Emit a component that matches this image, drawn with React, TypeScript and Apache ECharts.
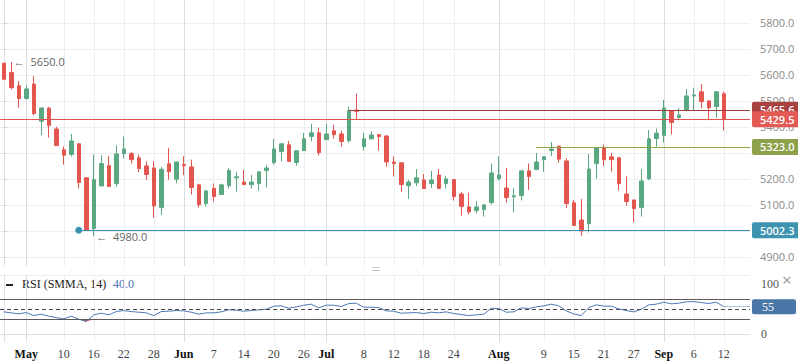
import React, { useEffect, useRef } from 'react';
import * as echarts from 'echarts';

// ---------- data ----------
const slotCount = 100; // 97 candles + empty space on the right
const opens = [5645,5609,5558,5509,5565,5422,5472,5392,5312,5294,5335,5204,5009,5173,5251,5182,5297,5297,5281,5250,5242,5090,5258,5199,5255,5246,5177,5105,5164,5140,5174,5204,5188,5178,5182,5232,5263,5305,5331,5263,5309,5363,5377,5351,5385,5373,5347,5465,5324,5354,5370,5365,5265,5262,5174,5185,5196,5182,5215,5182,5197,5142,5092,5078,5082,5109,5201,5165,5131,5136,5231,5236,5274,5309,5326,5269,5108,5042,5028,5259,5321,5285,5281,5142,5119,5090,5200,5355,5367,5463,5436,5465,5519,5535,5500,5478,5527];
const highs = [5647,5650,5577,5560,5596,5473,5477,5401,5324,5373,5336,5205,5294,5291,5288,5329,5363,5303,5294,5268,5268,5246,5319,5266,5287,5274,5181,5155,5182,5182,5241,5227,5235,5215,5228,5254,5354,5336,5346,5309,5377,5412,5397,5412,5408,5385,5477,5528,5377,5383,5371,5369,5286,5263,5196,5238,5219,5231,5238,5212,5200,5150,5147,5115,5104,5259,5286,5242,5165,5232,5259,5300,5287,5342,5328,5279,5119,5123,5296,5322,5331,5300,5285,5209,5120,5238,5388,5394,5504,5464,5473,5546,5551,5565,5501,5536,5535];
const lows = [5580,5544,5474,5505,5444,5368,5359,5327,5255,5286,5163,5000,4980,5172,5170,5171,5278,5259,5226,5197,5051,5062,5197,5183,5214,5140,5090,5094,5113,5139,5163,5151,5177,5163,5155,5167,5255,5267,5266,5251,5308,5344,5290,5350,5355,5324,5340,5427,5309,5353,5308,5246,5209,5150,5123,5172,5162,5165,5162,5163,5117,5059,5063,5067,5055,5101,5194,5109,5071,5117,5158,5235,5227,5288,5262,5088,5020,4981,4994,5201,5250,5228,5155,5097,5032,5055,5196,5324,5340,5371,5428,5459,5465,5471,5426,5435,5386];
const closes = [5583,5551,5509,5546,5451,5473,5405,5328,5291,5346,5186,5002,5197,5259,5171,5296,5315,5274,5240,5217,5096,5237,5227,5265,5251,5167,5101,5154,5132,5177,5233,5208,5178,5188,5227,5242,5315,5335,5267,5308,5354,5377,5301,5373,5370,5344,5462,5460,5354,5369,5363,5265,5259,5178,5188,5204,5163,5196,5163,5200,5132,5094,5073,5092,5100,5223,5215,5128,5135,5231,5209,5265,5285,5315,5276,5105,5021,5000,5238,5321,5274,5274,5182,5113,5086,5192,5354,5376,5473,5417,5446,5519,5523,5497,5474,5535,5429.5];
const rsiValues = [44.7,42.7,40.7,43.3,37.3,40,36,33.3,30.7,36,30,25.3,38.7,42,38.7,45.3,47.3,45.3,44,42.7,37.3,45.3,46,47.3,46.7,44,40,42.7,42.7,44.7,48.7,48,46,47.3,48.7,50,56,56.7,52,54.7,58,60,52.7,58,58,55.3,61.3,62,54,54,53.3,46.7,46,42,42.7,43.3,41.3,44,42.7,44.7,41.3,39.3,37.3,38.7,40,52,51.3,44,44.7,52.7,51.3,54.7,56.7,60,56.7,46.7,40.7,37.3,53.3,58.7,56,56,50.7,47.3,44.7,50,58.7,60,64,60.7,62,64.7,65.3,63.3,61.3,64,55];

const tickIndex = [3,8,12,16,20,24,28,32,36,40,43,48,52,56,60,66,72,76,80,84,88,92,96];
const tickText = ['May','10','16','22','28','Jun','7','14','20','26','Jul','8','12','18','24','Aug','9','15','21','27','Sep','6','12'];
const priceTicks = [4900,5000,5100,5200,5300,5400,5500,5600,5700,5800];
// 5300.0 is hidden behind the 5323.0 badge in the reference
const priceLabels = [4900,5000,5100,5200,5400,5500,5600,5700,5800];
const rsiTicks = [0, 100];

// levels: value, start index (null = full width), line colour, badge colour, start dot
const levelValues = [5465.6, 5429.5, 5323.0, 5002.3];
const levelStart = [46, null, 71, 10];
const levelLine = ['#a43b3b', '#e0534e', '#8ea544', '#3a91b2'];
const levelBadge = ['#a84241', '#e35a55', '#8ca14a', '#3d93b0'];
const levelDot = [false, false, false, true];

const extremes = [
  { index: 1, value: 5650.0 },
  { index: 12, value: 4980.0 },
];
const rsiLevels = [70, 30];
const rsiMid = 50;
const rsiLast = 55;
const rsiLegendName = 'RSI (SMMA, 14)';
const rsiLegendValue = '40.0';

const SANS = '"Open Sans", "Noto Sans", sans-serif';
const SERIF = '"Liberation Serif", "DejaVu Serif", serif';
const GREEN = '#5aa882';
const RED = '#e3564f';

const categories = Array.from({ length: slotCount }, (_, i) => String(i));
const monthNames = ['May', 'Jun', 'Jul', 'Aug', 'Sep'];

function buildOption(): any {
  const candleData = opens.map((o, i) => [o, closes[i], lows[i], highs[i]]);
  const lastIdx = closes.length - 1;
  const xEnd = slotCount - 0.5;

  const vLines = tickIndex.map((ix, k) => ({
    xAxis: ix,
    lineStyle: { color: monthNames.includes(tickText[k]) ? '#d9dce0' : '#eceef1', width: 1, type: 'solid' },
  }));

  const levelData: any[] = levelValues.map((v, k) => {
    const label = {
      show: true,
      position: 'end',
      distance: 2,
      formatter: v.toFixed(1),
      backgroundColor: levelBadge[k],
      color: '#fff',
      fontFamily: SANS,
      fontSize: 11,
      fontWeight: 600,
      padding: [3, 8, 2, 8],
      borderRadius: 2,
    };
    const lineStyle = { color: levelLine[k], width: 1, type: 'solid' };
    if (levelStart[k] == null) {
      return { yAxis: v, label, lineStyle, symbol: 'none' };
    }
    return [
      {
        coord: [levelStart[k], v],
        label,
        lineStyle,
        symbol: levelDot[k] ? 'circle' : 'none',
        symbolSize: 7,
        itemStyle: { color: levelLine[k] },
      },
      { coord: [xEnd, v], symbol: 'none' },
    ];
  });

  return {
    animation: false,
    backgroundColor: '#ffffff',
    grid: [
      { left: 0, top: 0, width: 750, height: 266 },
      { left: 0, top: 275, width: 750, height: 66.7 },
    ],
    xAxis: [
      { type: 'category', gridIndex: 0, data: categories, show: false, boundaryGap: true },
      { type: 'value', gridIndex: 0, min: -0.5, max: xEnd, show: false },
      {
        type: 'category',
        gridIndex: 1,
        data: categories,
        boundaryGap: true,
        axisLine: { show: true, lineStyle: { color: '#dcdfe3' } },
        axisTick: { show: false },
        splitLine: { show: false },
        axisLabel: {
          interval: (idx: number) => tickIndex.includes(idx),
          margin: 6,
          fontFamily: SERIF,
          fontSize: 12,
          formatter: (val: string) => {
            const k = tickIndex.indexOf(Number(val));
            if (k < 0) return '';
            const t = tickText[k];
            return monthNames.includes(t) ? '{m|' + t + '}' : '{d|' + t + '}';
          },
          rich: {
            m: { fontFamily: SERIF, fontSize: 12, fontWeight: 'bold', color: '#111' },
            d: { fontFamily: SERIF, fontSize: 12, color: '#444' },
          },
        },
      },
      { type: 'value', gridIndex: 1, min: -0.5, max: xEnd, show: false },
    ],
    yAxis: [
      {
        type: 'value',
        gridIndex: 0,
        position: 'right',
        min: 4865,
        max: 5888,
        axisLine: { show: true, lineStyle: { color: '#dcdfe3' } },
        axisTick: { show: true, length: 3, customValues: priceTicks, lineStyle: { color: '#cfd3d8' } },
        axisLabel: {
          customValues: priceLabels,
          formatter: (v: number) => v.toFixed(1),
          color: '#8a8a8a',
          fontFamily: SANS,
          fontSize: 11,
          margin: 10,
        },
        splitLine: { show: false },
      },
      {
        type: 'value',
        gridIndex: 1,
        position: 'right',
        min: -15,
        max: 118.4,
        axisLine: { show: true, lineStyle: { color: '#dcdfe3' } },
        axisTick: { show: false },
        axisLabel: {
          customValues: rsiTicks,
          color: '#555',
          fontFamily: SERIF,
          fontSize: 12,
          margin: 11,
        },
        splitLine: { show: false },
      },
    ],
    series: [
      {
        // main grid lines
        type: 'line',
        xAxisIndex: 1,
        yAxisIndex: 0,
        data: [],
        z: 0,
        silent: true,
        markLine: {
          z: 0,
          silent: true,
          symbol: 'none',
          label: { show: false },
          data: [
            ...priceTicks.map((v) => ({ yAxis: v, lineStyle: { color: '#eceef1', width: 1, type: 'solid' } })),
            ...vLines,
          ],
        },
      },
      {
        type: 'candlestick',
        xAxisIndex: 0,
        yAxisIndex: 0,
        data: candleData,
        barWidth: 4,
        z: 2,
        itemStyle: {
          color: GREEN,
          color0: RED,
          borderColor: GREEN,
          borderColor0: RED,
          borderWidth: 1,
        },
        markPoint: {
          symbol: 'circle',
          symbolSize: 1,
          itemStyle: { color: 'rgba(0,0,0,0)' },
          label: {
            show: true,
            position: 'right',
            distance: 2,
            color: '#666',
            fontFamily: SANS,
            fontSize: 11,
            formatter: (p: any) => '\u2190  ' + Number(p.value).toFixed(1),
          },
          data: extremes.map((e) => ({ coord: [e.index, e.value], value: e.value })),
        },
      },
      {
        // price levels
        type: 'line',
        xAxisIndex: 1,
        yAxisIndex: 0,
        data: [],
        z: 4,
        silent: true,
        markLine: {
          silent: true,
          symbol: 'none',
          data: levelData,
        },
      },
      {
        // RSI grid lines
        type: 'line',
        xAxisIndex: 3,
        yAxisIndex: 1,
        data: [],
        z: 0,
        silent: true,
        markLine: {
          z: 0,
          silent: true,
          symbol: 'none',
          label: { show: false },
          data: vLines,
        },
      },
      {
        // oversold fill
        type: 'line',
        xAxisIndex: 3,
        yAxisIndex: 1,
        data: rsiValues.map((v, i) => [i, Math.min(v, rsiLevels[1])]),
        symbol: 'none',
        silent: true,
        z: 2,
        lineStyle: { opacity: 0 },
        areaStyle: { origin: rsiLevels[1], color: RED, opacity: 1 },
      },
      {
        type: 'line',
        xAxisIndex: 3,
        yAxisIndex: 1,
        data: rsiValues.map((v, i) => [i, v]),
        symbol: 'none',
        z: 3,
        lineStyle: { color: '#4a78b5', width: 1 },
        markLine: {
          silent: true,
          symbol: 'none',
          data: [
            ...rsiLevels.map((v) => ({ yAxis: v, label: { show: false }, lineStyle: { color: '#5a5a5a', width: 1, type: 'solid' } })),
            { yAxis: rsiMid, label: { show: false }, lineStyle: { color: '#4a4a4a', width: 1, type: [4, 3] } },
            [
              {
                coord: [lastIdx, rsiLast],
                lineStyle: { color: '#a9bfdc', width: 1, type: 'solid' },
                label: {
                  show: true,
                  position: 'end',
                  distance: 2,
                  formatter: String(rsiLast),
                  backgroundColor: '#4a76a8',
                  color: '#fff',
                  fontFamily: SERIF,
                  fontSize: 12,
                  padding: [2, 22, 1, 10],
                  borderRadius: 2,
                },
              },
              { coord: [xEnd, rsiLast] },
            ],
          ],
        },
      },
    ],
    graphic: [
      { type: 'rect', left: 6, top: 284, shape: { width: 7, height: 2 }, style: { fill: '#222' } },
      {
        type: 'text',
        left: 22,
        top: 278,
        style: {
          text: '{a|' + rsiLegendName + '}  {b|' + rsiLegendValue + '}',
          rich: {
            a: { fontFamily: SERIF, fontSize: 12, fill: '#222' },
            b: { fontFamily: SERIF, fontSize: 12, fill: '#4a78b5' },
          },
        },
      },
      { type: 'text', left: 782, top: 271, style: { text: '\u00d7', font: '17px ' + SANS, fill: '#999' } },
      { type: 'line', shape: { x1: 372, y1: 267.5, x2: 380, y2: 267.5 }, style: { stroke: '#c9c9c9', lineWidth: 1 } },
      { type: 'line', shape: { x1: 372, y1: 270.5, x2: 380, y2: 270.5 }, style: { stroke: '#c9c9c9', lineWidth: 1 } },
      { type: 'line', shape: { x1: 0, y1: 275.5, x2: 750, y2: 275.5 }, style: { stroke: '#eceef1', lineWidth: 1 } },
    ],
  };
}

export default function App() {
  const ref = useRef<HTMLDivElement>(null);
  useEffect(() => {
    if (!ref.current) return;
    const chart = echarts.init(ref.current, null, { renderer: 'svg' });
    chart.setOption(buildOption());
    return () => chart.dispose();
  }, []);
  return (
    <div
      ref={ref}
      style={{ position: 'fixed', left: 0, top: 0, width: 798, height: 363, background: '#fff' }}
    />
  );
}
